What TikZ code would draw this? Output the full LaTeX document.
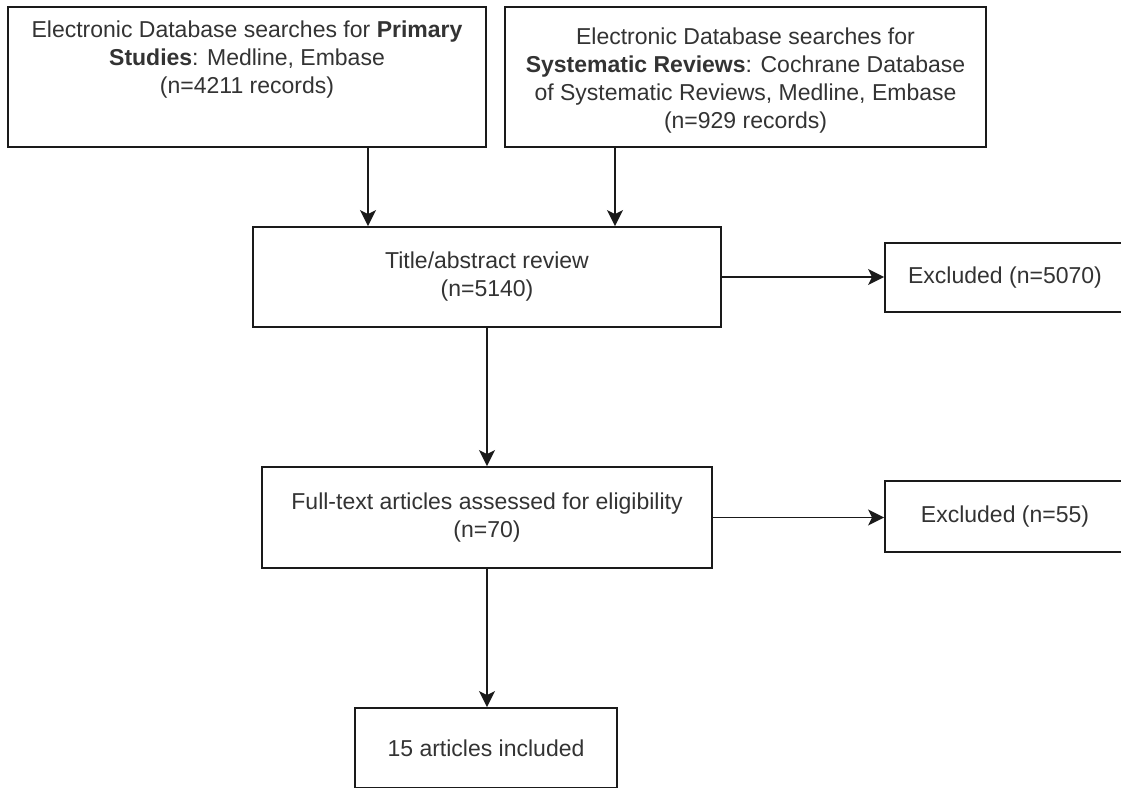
\documentclass[tikz,border=0pt]{standalone}
\usepackage{fontspec}
\setmainfont{Liberation Sans}
\usetikzlibrary{arrows.meta}
\definecolor{txt}{HTML}{333333}
\definecolor{ln}{HTML}{1A1A1A}
\begin{document}
\begin{tikzpicture}[x=1pt,y=-1pt,
  box/.style={draw=ln, line width=1.8pt, fill=white, inner sep=0pt},
  lbl/.style={text=txt, align=center, font=\fontsize{23}{28}\selectfont, inner sep=0pt},
  conn/.style={draw=ln, line width=1.8pt, -{Stealth[length=16pt,width=16pt,inset=4pt]}}]
\useasboundingbox (0,0) rectangle (1121,787);
\begin{scope}
\clip (0,0) rectangle (1121,787);
% boxes
\node[box, minimum width=478pt, minimum height=140pt] (b1) at (247,77) {};
\node[lbl] (b1t) at (247,60) {Electronic Database searches for \textbf{Primary}\\\textbf{Studies}: Medline, Embase\\(n=4211 records)};
\node[box, minimum width=481pt, minimum height=140pt] (b2) at (745.5,77) {};
\node[lbl] (b2t) at (745.5,81) {Electronic Database searches for\\\textbf{Systematic Reviews}: Cochrane Database\\of Systematic Reviews, Medline, Embase\\(n=929 records)};
\node[box, lbl, draw=ln, line width=1.8pt, fill=white, minimum width=468pt, minimum height=100pt] (t) at (487,277) {Title/abstract review\\(n=5140)};
\node[box, lbl, draw=ln, line width=1.8pt, fill=white, minimum width=240pt, minimum height=69pt] (e1) at (1005,277.5) {Excluded (n=5070)};
\node[box, lbl, draw=ln, line width=1.8pt, fill=white, minimum width=450pt, minimum height=101pt] (f) at (487,517.5) {Full-text articles assessed for eligibility\\(n=70)};
\node[box, lbl, draw=ln, line width=1.8pt, fill=white, minimum width=240pt, minimum height=71pt] (e2) at (1005,516.5) {Excluded (n=55)};
\node[box, lbl, draw=ln, line width=1.8pt, fill=white, minimum width=262pt, minimum height=80pt] (g) at (486,748) {15 articles included};
% connectors
\coordinate (c1) at (368,0);
\coordinate (c2) at (615,0);
\draw[conn] (c1 |- b1.south) -- (c1 |- t.north);
\draw[conn] (c2 |- b2.south) -- (c2 |- t.north);
\draw[conn] (t.east) -- (t.east -| e1.west);
\draw[conn] (t.south) -- (f.north);
\draw[conn] (f.east) -- (f.east -| e2.west);
\draw[conn] (f.south) -- (f.south |- g.north);
\end{scope}
\end{tikzpicture}
\end{document}
